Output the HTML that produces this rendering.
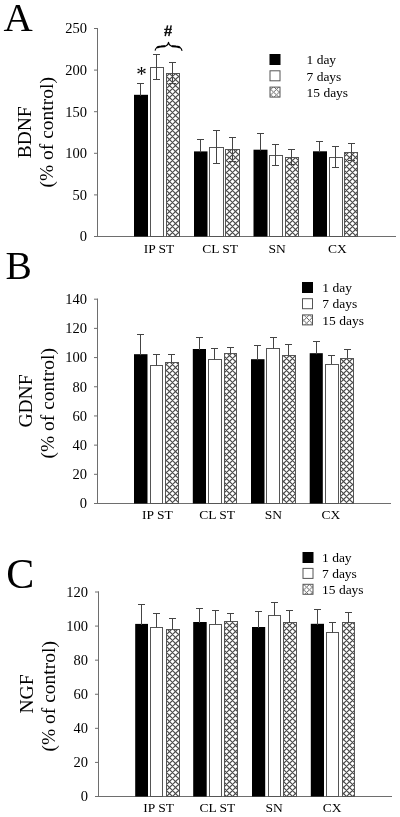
<!DOCTYPE html>
<html><head><meta charset="utf-8"><title>Figure</title>
<style>
html,body{margin:0;padding:0;background:#fff;}
body{width:400px;height:817px;overflow:hidden;font-family:"Liberation Serif", serif;}
svg{display:block;}
svg{filter:grayscale(1);}
</style></head>
<body>
<svg width="400" height="817" viewBox="0 0 400 817" font-family='"Liberation Serif", serif' fill="#000">
<defs><pattern id="hatch" patternUnits="userSpaceOnUse" width="6" height="6" x="0" y="0"><rect width="6" height="6" fill="#fff"/><path d="M-1,-1 L7,7 M-7,-1 L1,7 M5,-1 L13,7 M-1,4 L4,-1 M2,7 L7,2 M-4,7 L1,2 M5,-1 L10,-6" stroke="#484848" stroke-width="1.15"/></pattern><pattern id="hatch2" patternUnits="userSpaceOnUse" width="5.5" height="5.5" x="0" y="0"><rect width="5.5" height="5.5" fill="#fff"/><path d="M-1,-1 L6.5,6.5 M-6.5,-1 L1,6.5 M4.5,-1 L12,6.5 M-1,3.75 L3.75,-1 M1.75,6.5 L6.5,1.75" stroke="#555" stroke-width="0.9"/></pattern></defs>
<rect width="400" height="817" fill="#fff"/>
<line x1="97.5" y1="28" x2="97.5" y2="237" stroke="#6e6e6e" stroke-width="1"/>
<line x1="97" y1="236.5" x2="396" y2="236.5" stroke="#6e6e6e" stroke-width="1"/>
<line x1="94" y1="28.5" x2="98" y2="28.5" stroke="#6e6e6e" stroke-width="1"/>
<text x="87" y="33.3" font-size="14.5" text-anchor="end" >250</text>
<line x1="94" y1="70.1" x2="98" y2="70.1" stroke="#6e6e6e" stroke-width="1"/>
<text x="87" y="74.89999999999999" font-size="14.5" text-anchor="end" >200</text>
<line x1="94" y1="111.7" x2="98" y2="111.7" stroke="#6e6e6e" stroke-width="1"/>
<text x="87" y="116.5" font-size="14.5" text-anchor="end" >150</text>
<line x1="94" y1="153.3" x2="98" y2="153.3" stroke="#6e6e6e" stroke-width="1"/>
<text x="87" y="158.10000000000002" font-size="14.5" text-anchor="end" >100</text>
<line x1="94" y1="194.9" x2="98" y2="194.9" stroke="#6e6e6e" stroke-width="1"/>
<text x="87" y="199.70000000000002" font-size="14.5" text-anchor="end" >50</text>
<line x1="94" y1="236.5" x2="98" y2="236.5" stroke="#6e6e6e" stroke-width="1"/>
<text x="87" y="241.3" font-size="14.5" text-anchor="end" >0</text>
<rect x="134" y="94.8" width="14" height="141.7" fill="#000"/>
<line x1="140.5" y1="83.5" x2="140.5" y2="95.8" stroke="#444" stroke-width="1"/>
<line x1="137.0" y1="83.5" x2="144.0" y2="83.5" stroke="#444" stroke-width="1"/>
<rect x="150.5" y="67.5" width="13.0" height="169.0" fill="#fff" stroke="#555" stroke-width="1"/>
<line x1="156.5" y1="54.5" x2="156.5" y2="79.5" stroke="#444" stroke-width="1"/>
<line x1="153.0" y1="79.5" x2="160.0" y2="79.5" stroke="#444" stroke-width="1"/>
<line x1="153.0" y1="54.5" x2="160.0" y2="54.5" stroke="#444" stroke-width="1"/>
<rect x="166.5" y="73.5" width="13.0" height="163.0" fill="url(#hatch)" stroke="#555" stroke-width="1"/>
<line x1="172.5" y1="62.5" x2="172.5" y2="83.5" stroke="#444" stroke-width="1"/>
<line x1="169.0" y1="83.5" x2="176.0" y2="83.5" stroke="#444" stroke-width="1"/>
<line x1="169.0" y1="62.5" x2="176.0" y2="62.5" stroke="#444" stroke-width="1"/>
<rect x="194" y="151.4" width="13.5" height="85.1" fill="#000"/>
<line x1="200.5" y1="139.5" x2="200.5" y2="152.4" stroke="#444" stroke-width="1"/>
<line x1="197.0" y1="139.5" x2="204.0" y2="139.5" stroke="#444" stroke-width="1"/>
<rect x="209.5" y="147.5" width="14.0" height="89.0" fill="#fff" stroke="#555" stroke-width="1"/>
<line x1="216.5" y1="130.5" x2="216.5" y2="163.5" stroke="#444" stroke-width="1"/>
<line x1="213.0" y1="163.5" x2="220.0" y2="163.5" stroke="#444" stroke-width="1"/>
<line x1="213.0" y1="130.5" x2="220.0" y2="130.5" stroke="#444" stroke-width="1"/>
<rect x="225.5" y="149.5" width="14.0" height="87.0" fill="url(#hatch)" stroke="#555" stroke-width="1"/>
<line x1="232.5" y1="137.5" x2="232.5" y2="161.5" stroke="#444" stroke-width="1"/>
<line x1="229.0" y1="161.5" x2="236.0" y2="161.5" stroke="#444" stroke-width="1"/>
<line x1="229.0" y1="137.5" x2="236.0" y2="137.5" stroke="#444" stroke-width="1"/>
<rect x="253.5" y="149.7" width="14.0" height="86.80000000000001" fill="#000"/>
<line x1="260.5" y1="133.5" x2="260.5" y2="150.7" stroke="#444" stroke-width="1"/>
<line x1="257.0" y1="133.5" x2="264.0" y2="133.5" stroke="#444" stroke-width="1"/>
<rect x="269.5" y="155.5" width="13.0" height="81.0" fill="#fff" stroke="#555" stroke-width="1"/>
<line x1="275.5" y1="144.5" x2="275.5" y2="165.5" stroke="#444" stroke-width="1"/>
<line x1="272.0" y1="165.5" x2="279.0" y2="165.5" stroke="#444" stroke-width="1"/>
<line x1="272.0" y1="144.5" x2="279.0" y2="144.5" stroke="#444" stroke-width="1"/>
<rect x="285.5" y="157.5" width="13.0" height="79.0" fill="url(#hatch)" stroke="#555" stroke-width="1"/>
<line x1="291.5" y1="149.5" x2="291.5" y2="164.5" stroke="#444" stroke-width="1"/>
<line x1="288.0" y1="164.5" x2="295.0" y2="164.5" stroke="#444" stroke-width="1"/>
<line x1="288.0" y1="149.5" x2="295.0" y2="149.5" stroke="#444" stroke-width="1"/>
<rect x="313" y="151.3" width="14" height="85.19999999999999" fill="#000"/>
<line x1="319.5" y1="141.5" x2="319.5" y2="152.3" stroke="#444" stroke-width="1"/>
<line x1="316.0" y1="141.5" x2="323.0" y2="141.5" stroke="#444" stroke-width="1"/>
<rect x="329.5" y="157.5" width="13.0" height="79.0" fill="#fff" stroke="#555" stroke-width="1"/>
<line x1="335.5" y1="146.5" x2="335.5" y2="167.5" stroke="#444" stroke-width="1"/>
<line x1="332.0" y1="167.5" x2="339.0" y2="167.5" stroke="#444" stroke-width="1"/>
<line x1="332.0" y1="146.5" x2="339.0" y2="146.5" stroke="#444" stroke-width="1"/>
<rect x="344.5" y="152.5" width="13.0" height="84.0" fill="url(#hatch)" stroke="#555" stroke-width="1"/>
<line x1="351.5" y1="143.5" x2="351.5" y2="160.5" stroke="#444" stroke-width="1"/>
<line x1="348.0" y1="160.5" x2="355.0" y2="160.5" stroke="#444" stroke-width="1"/>
<line x1="348.0" y1="143.5" x2="355.0" y2="143.5" stroke="#444" stroke-width="1"/>
<rect x="269.5" y="54.0" width="11" height="11" fill="#000"/>
<text x="306.5" y="64.2" font-size="13.5" text-anchor="start" >1 day</text>
<rect x="270.0" y="70.8" width="10" height="10" fill="#fff" stroke="#555"/>
<text x="306.5" y="80.5" font-size="13.5" text-anchor="start" >7 days</text>
<rect x="270.0" y="87.1" width="10" height="10" fill="url(#hatch2)" stroke="#555"/>
<text x="306.5" y="96.8" font-size="13.5" text-anchor="start" >15 days</text>
<text x="159" y="253.3" font-size="13.5" text-anchor="middle" >IP ST</text>
<text x="220.1" y="253.3" font-size="13.5" text-anchor="middle" >CL ST</text>
<text x="277.1" y="253.3" font-size="13.5" text-anchor="middle" >SN</text>
<text x="337.5" y="253.3" font-size="13.5" text-anchor="middle" >CX</text>
<text transform="translate(30.5,132.3) rotate(-90)" font-size="19.5" text-anchor="middle">BDNF</text>
<text transform="translate(53,132.3) rotate(-90)" font-size="19.5" text-anchor="middle">(% of control)</text>
<text x="3.5" y="30.5" font-size="40.5" text-anchor="start" >A</text>
<line x1="97.5" y1="298.7" x2="97.5" y2="504" stroke="#6e6e6e" stroke-width="1"/>
<line x1="97" y1="503.5" x2="391" y2="503.5" stroke="#6e6e6e" stroke-width="1"/>
<line x1="94" y1="299.2" x2="98" y2="299.2" stroke="#6e6e6e" stroke-width="1"/>
<text x="87" y="304.0" font-size="14.5" text-anchor="end" >140</text>
<line x1="94" y1="328.3857142857143" x2="98" y2="328.3857142857143" stroke="#6e6e6e" stroke-width="1"/>
<text x="87" y="333.1857142857143" font-size="14.5" text-anchor="end" >120</text>
<line x1="94" y1="357.57142857142856" x2="98" y2="357.57142857142856" stroke="#6e6e6e" stroke-width="1"/>
<text x="87" y="362.37142857142857" font-size="14.5" text-anchor="end" >100</text>
<line x1="94" y1="386.75714285714287" x2="98" y2="386.75714285714287" stroke="#6e6e6e" stroke-width="1"/>
<text x="87" y="391.5571428571429" font-size="14.5" text-anchor="end" >80</text>
<line x1="94" y1="415.9428571428571" x2="98" y2="415.9428571428571" stroke="#6e6e6e" stroke-width="1"/>
<text x="87" y="420.74285714285713" font-size="14.5" text-anchor="end" >60</text>
<line x1="94" y1="445.1285714285714" x2="98" y2="445.1285714285714" stroke="#6e6e6e" stroke-width="1"/>
<text x="87" y="449.9285714285714" font-size="14.5" text-anchor="end" >40</text>
<line x1="94" y1="474.3142857142857" x2="98" y2="474.3142857142857" stroke="#6e6e6e" stroke-width="1"/>
<text x="87" y="479.1142857142857" font-size="14.5" text-anchor="end" >20</text>
<line x1="94" y1="503.5" x2="98" y2="503.5" stroke="#6e6e6e" stroke-width="1"/>
<text x="87" y="508.3" font-size="14.5" text-anchor="end" >0</text>
<rect x="134" y="354.2" width="13.5" height="149.3" fill="#000"/>
<line x1="140.5" y1="334.5" x2="140.5" y2="355.2" stroke="#444" stroke-width="1"/>
<line x1="137.0" y1="334.5" x2="144.0" y2="334.5" stroke="#444" stroke-width="1"/>
<rect x="150.5" y="365.5" width="12.0" height="138.0" fill="#fff" stroke="#555" stroke-width="1"/>
<line x1="156.5" y1="354.5" x2="156.5" y2="365.7" stroke="#444" stroke-width="1"/>
<line x1="153.0" y1="354.5" x2="160.0" y2="354.5" stroke="#444" stroke-width="1"/>
<rect x="165.5" y="362.5" width="13.0" height="141.0" fill="url(#hatch)" stroke="#555" stroke-width="1"/>
<line x1="171.5" y1="354.5" x2="171.5" y2="362.6" stroke="#444" stroke-width="1"/>
<line x1="168.0" y1="354.5" x2="175.0" y2="354.5" stroke="#444" stroke-width="1"/>
<rect x="192.8" y="349" width="13.199999999999989" height="154.5" fill="#000"/>
<line x1="199.5" y1="337.5" x2="199.5" y2="350" stroke="#444" stroke-width="1"/>
<line x1="196.0" y1="337.5" x2="203.0" y2="337.5" stroke="#444" stroke-width="1"/>
<rect x="208.5" y="359.5" width="13.0" height="144.0" fill="#fff" stroke="#555" stroke-width="1"/>
<line x1="214.5" y1="348.5" x2="214.5" y2="359.6" stroke="#444" stroke-width="1"/>
<line x1="211.0" y1="348.5" x2="218.0" y2="348.5" stroke="#444" stroke-width="1"/>
<rect x="224.5" y="353.5" width="12.0" height="150.0" fill="url(#hatch)" stroke="#555" stroke-width="1"/>
<line x1="230.5" y1="347.5" x2="230.5" y2="353.9" stroke="#444" stroke-width="1"/>
<line x1="227.0" y1="347.5" x2="234.0" y2="347.5" stroke="#444" stroke-width="1"/>
<rect x="251" y="359.2" width="13.5" height="144.3" fill="#000"/>
<line x1="257.5" y1="345.5" x2="257.5" y2="360.2" stroke="#444" stroke-width="1"/>
<line x1="254.0" y1="345.5" x2="261.0" y2="345.5" stroke="#444" stroke-width="1"/>
<rect x="266.5" y="348.5" width="13.0" height="155.0" fill="#fff" stroke="#555" stroke-width="1"/>
<line x1="273.5" y1="337.5" x2="273.5" y2="348.7" stroke="#444" stroke-width="1"/>
<line x1="270.0" y1="337.5" x2="277.0" y2="337.5" stroke="#444" stroke-width="1"/>
<rect x="282.5" y="355.5" width="13.0" height="148.0" fill="url(#hatch)" stroke="#555" stroke-width="1"/>
<line x1="288.5" y1="344.5" x2="288.5" y2="355.5" stroke="#444" stroke-width="1"/>
<line x1="285.0" y1="344.5" x2="292.0" y2="344.5" stroke="#444" stroke-width="1"/>
<rect x="309.7" y="353.2" width="13.100000000000023" height="150.3" fill="#000"/>
<line x1="316.5" y1="341.5" x2="316.5" y2="354.2" stroke="#444" stroke-width="1"/>
<line x1="313.0" y1="341.5" x2="320.0" y2="341.5" stroke="#444" stroke-width="1"/>
<rect x="325.5" y="364.5" width="13.0" height="139.0" fill="#fff" stroke="#555" stroke-width="1"/>
<line x1="331.5" y1="355.5" x2="331.5" y2="364.0" stroke="#444" stroke-width="1"/>
<line x1="328.0" y1="355.5" x2="335.0" y2="355.5" stroke="#444" stroke-width="1"/>
<rect x="340.5" y="358.5" width="13.0" height="145.0" fill="url(#hatch)" stroke="#555" stroke-width="1"/>
<line x1="347.5" y1="349.5" x2="347.5" y2="358.0" stroke="#444" stroke-width="1"/>
<line x1="344.0" y1="349.5" x2="351.0" y2="349.5" stroke="#444" stroke-width="1"/>
<rect x="302" y="282.0" width="11" height="11" fill="#000"/>
<text x="322.3" y="292.2" font-size="13.5" text-anchor="start" >1 day</text>
<rect x="302.5" y="298.7" width="10" height="10" fill="#fff" stroke="#555"/>
<text x="322.3" y="308.4" font-size="13.5" text-anchor="start" >7 days</text>
<rect x="302.5" y="314.9" width="10" height="10" fill="url(#hatch2)" stroke="#555"/>
<text x="322.3" y="324.59999999999997" font-size="13.5" text-anchor="start" >15 days</text>
<text x="157.35" y="519" font-size="13.5" text-anchor="middle" >IP ST</text>
<text x="217.1" y="519" font-size="13.5" text-anchor="middle" >CL ST</text>
<text x="273.4" y="519" font-size="13.5" text-anchor="middle" >SN</text>
<text x="331" y="519" font-size="13.5" text-anchor="middle" >CX</text>
<text transform="translate(32,401) rotate(-90)" font-size="19.5" text-anchor="middle">GDNF</text>
<text transform="translate(54,403.3) rotate(-90)" font-size="19.5" text-anchor="middle">(% of control)</text>
<text x="5.5" y="278.5" font-size="39.5" text-anchor="start" >B</text>
<line x1="98.5" y1="591.5" x2="98.5" y2="797" stroke="#6e6e6e" stroke-width="1"/>
<line x1="98" y1="796.5" x2="392" y2="796.5" stroke="#6e6e6e" stroke-width="1"/>
<line x1="95" y1="592.0" x2="99" y2="592.0" stroke="#6e6e6e" stroke-width="1"/>
<text x="88" y="596.8" font-size="14.5" text-anchor="end" >120</text>
<line x1="95" y1="626.0833333333334" x2="99" y2="626.0833333333334" stroke="#6e6e6e" stroke-width="1"/>
<text x="88" y="630.8833333333333" font-size="14.5" text-anchor="end" >100</text>
<line x1="95" y1="660.1666666666666" x2="99" y2="660.1666666666666" stroke="#6e6e6e" stroke-width="1"/>
<text x="88" y="664.9666666666666" font-size="14.5" text-anchor="end" >80</text>
<line x1="95" y1="694.25" x2="99" y2="694.25" stroke="#6e6e6e" stroke-width="1"/>
<text x="88" y="699.05" font-size="14.5" text-anchor="end" >60</text>
<line x1="95" y1="728.3333333333334" x2="99" y2="728.3333333333334" stroke="#6e6e6e" stroke-width="1"/>
<text x="88" y="733.1333333333333" font-size="14.5" text-anchor="end" >40</text>
<line x1="95" y1="762.4166666666666" x2="99" y2="762.4166666666666" stroke="#6e6e6e" stroke-width="1"/>
<text x="88" y="767.2166666666666" font-size="14.5" text-anchor="end" >20</text>
<line x1="95" y1="796.5" x2="99" y2="796.5" stroke="#6e6e6e" stroke-width="1"/>
<text x="88" y="801.3" font-size="14.5" text-anchor="end" >0</text>
<rect x="135.2" y="623.9" width="12.800000000000011" height="172.60000000000002" fill="#000"/>
<line x1="141.5" y1="604.5" x2="141.5" y2="624.9" stroke="#444" stroke-width="1"/>
<line x1="138.0" y1="604.5" x2="145.0" y2="604.5" stroke="#444" stroke-width="1"/>
<rect x="150.5" y="627.5" width="12.0" height="169.0" fill="#fff" stroke="#555" stroke-width="1"/>
<line x1="156.5" y1="613.5" x2="156.5" y2="627.5" stroke="#444" stroke-width="1"/>
<line x1="153.0" y1="613.5" x2="160.0" y2="613.5" stroke="#444" stroke-width="1"/>
<rect x="166.5" y="629.5" width="13.0" height="167.0" fill="url(#hatch)" stroke="#555" stroke-width="1"/>
<line x1="172.5" y1="618.5" x2="172.5" y2="629.2" stroke="#444" stroke-width="1"/>
<line x1="169.0" y1="618.5" x2="176.0" y2="618.5" stroke="#444" stroke-width="1"/>
<rect x="193.2" y="622" width="13.5" height="174.5" fill="#000"/>
<line x1="199.5" y1="608.5" x2="199.5" y2="623" stroke="#444" stroke-width="1"/>
<line x1="196.0" y1="608.5" x2="203.0" y2="608.5" stroke="#444" stroke-width="1"/>
<rect x="209.5" y="624.5" width="12.0" height="172.0" fill="#fff" stroke="#555" stroke-width="1"/>
<line x1="215.5" y1="610.5" x2="215.5" y2="624.0" stroke="#444" stroke-width="1"/>
<line x1="212.0" y1="610.5" x2="219.0" y2="610.5" stroke="#444" stroke-width="1"/>
<rect x="224.5" y="621.5" width="13.0" height="175.0" fill="url(#hatch)" stroke="#555" stroke-width="1"/>
<line x1="230.5" y1="613.5" x2="230.5" y2="621.7" stroke="#444" stroke-width="1"/>
<line x1="227.0" y1="613.5" x2="234.0" y2="613.5" stroke="#444" stroke-width="1"/>
<rect x="252" y="627" width="13.199999999999989" height="169.5" fill="#000"/>
<line x1="258.5" y1="611.5" x2="258.5" y2="628" stroke="#444" stroke-width="1"/>
<line x1="255.0" y1="611.5" x2="262.0" y2="611.5" stroke="#444" stroke-width="1"/>
<rect x="268.5" y="615.5" width="12.0" height="181.0" fill="#fff" stroke="#555" stroke-width="1"/>
<line x1="274.5" y1="602.5" x2="274.5" y2="615.7" stroke="#444" stroke-width="1"/>
<line x1="271.0" y1="602.5" x2="278.0" y2="602.5" stroke="#444" stroke-width="1"/>
<rect x="283.5" y="622.5" width="13.0" height="174.0" fill="url(#hatch)" stroke="#555" stroke-width="1"/>
<line x1="289.5" y1="610.5" x2="289.5" y2="622.9" stroke="#444" stroke-width="1"/>
<line x1="286.0" y1="610.5" x2="293.0" y2="610.5" stroke="#444" stroke-width="1"/>
<rect x="310.8" y="623.8" width="13.199999999999989" height="172.70000000000005" fill="#000"/>
<line x1="317.5" y1="609.5" x2="317.5" y2="624.8" stroke="#444" stroke-width="1"/>
<line x1="314.0" y1="609.5" x2="321.0" y2="609.5" stroke="#444" stroke-width="1"/>
<rect x="326.5" y="632.5" width="12.0" height="164.0" fill="#fff" stroke="#555" stroke-width="1"/>
<line x1="332.5" y1="622.5" x2="332.5" y2="633.0" stroke="#444" stroke-width="1"/>
<line x1="329.0" y1="622.5" x2="336.0" y2="622.5" stroke="#444" stroke-width="1"/>
<rect x="342.5" y="622.5" width="12.0" height="174.0" fill="url(#hatch)" stroke="#555" stroke-width="1"/>
<line x1="348.5" y1="612.5" x2="348.5" y2="622.8" stroke="#444" stroke-width="1"/>
<line x1="345.0" y1="612.5" x2="352.0" y2="612.5" stroke="#444" stroke-width="1"/>
<rect x="302.5" y="552.0" width="11" height="11" fill="#000"/>
<text x="322" y="562.2" font-size="13.5" text-anchor="start" >1 day</text>
<rect x="303.0" y="568.4" width="10" height="10" fill="#fff" stroke="#555"/>
<text x="322" y="578.1" font-size="13.5" text-anchor="start" >7 days</text>
<rect x="303.0" y="584.3" width="10" height="10" fill="url(#hatch2)" stroke="#555"/>
<text x="322" y="594.0" font-size="13.5" text-anchor="start" >15 days</text>
<text x="158.6" y="812" font-size="13.5" text-anchor="middle" >IP ST</text>
<text x="217.4" y="812" font-size="13.5" text-anchor="middle" >CL ST</text>
<text x="274.1" y="812" font-size="13.5" text-anchor="middle" >SN</text>
<text x="332.1" y="812" font-size="13.5" text-anchor="middle" >CX</text>
<text transform="translate(32.8,694) rotate(-90)" font-size="19.5" text-anchor="middle">NGF</text>
<text transform="translate(55,696.3) rotate(-90)" font-size="19.5" text-anchor="middle">(% of control)</text>
<text x="6.3" y="588" font-size="42" text-anchor="start" >C</text>
<text x="136.2" y="81.2" font-size="21" text-anchor="start" >*</text>
<path d="M165.2,36.2 L167.6,25.4 M168.8,36.2 L171.2,25.4" stroke="#111" stroke-width="1.5" fill="none"/>
<path d="M164.2,29.4 L171.8,29.4 M164.2,32.6 L171.8,32.6" stroke="#111" stroke-width="1.2" fill="none"/>
<path d="M155.2,50.2 C155.8,47.6 157.5,46.6 160.5,46.5 L164.2,46.4 C166.6,46.3 167.9,44.9 168.5,42.4 C169.1,44.9 170.4,46.3 172.8,46.4 L176.5,46.5 C179.5,46.6 181.3,47.6 181.9,50.4" fill="none" stroke="#000" stroke-width="1.2" stroke-linecap="round" stroke-linejoin="round"/>
<path d="M157.6,47.3 C158.6,46.7 159.5,46.5 161,46.5 L164.6,46.3 M172.4,46.3 L176,46.5 C177.5,46.5 178.4,46.7 179.4,47.3" fill="none" stroke="#000" stroke-width="2" stroke-linecap="round"/>
</svg>
</body></html>
